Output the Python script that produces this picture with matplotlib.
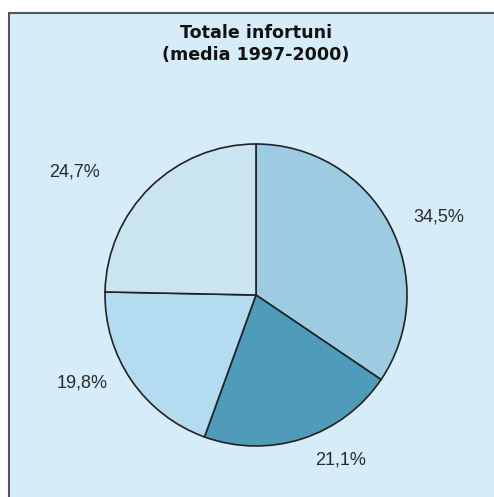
import matplotlib
matplotlib.use("Agg")
import matplotlib.pyplot as plt
from matplotlib.patches import Rectangle

# data
shares = [34.5, 21.1, 19.8, 24.7]
labels = ["34,5%", "21,1%", "19,8%", "24,7%"]
colors = ["#9ccbe2", "#4f9cba", "#b3dcf0", "#cae4f0"]
# label positions in pixels (x, y from top)
label_pos = [(439, 217), (341, 460), (82, 383), (74, 172)]

W, H = 494, 497
fig = plt.figure(figsize=(W / 100, H / 100), dpi=100)
fig.patch.set_facecolor("white")
ax = fig.add_axes([0, 0, 1, 1])

# background panel
ax.add_patch(Rectangle((9, -10), W + 20, H - 13 + 10, facecolor="#d6edf9",
                       edgecolor="#555555", linewidth=1.5, zorder=0))

ax.pie(shares, colors=colors, startangle=90, counterclock=False,
       center=(256, H - 295), radius=151,
       wedgeprops=dict(edgecolor="#222222", linewidth=1.2), frame=True)
ax.set_xlim(0, W)
ax.set_ylim(0, H)
ax.set_aspect("equal")
ax.axis("off")

for lab, (px, py) in zip(labels, label_pos):
    ax.text(px, H - py, lab, ha="center", va="center", fontsize=13,
            family="Liberation Sans", color="#2a2a2a")

title_kw = dict(ha="center", va="center", fontsize=12.6, fontweight="heavy",
                family="DejaVu Sans", color="#111111")
ax.text(256, H - 33, "Totale infortuni", **title_kw)
ax.text(256, H - 55, "(media 1997-2000)", **title_kw)

fig.savefig("out.png", dpi=100)
